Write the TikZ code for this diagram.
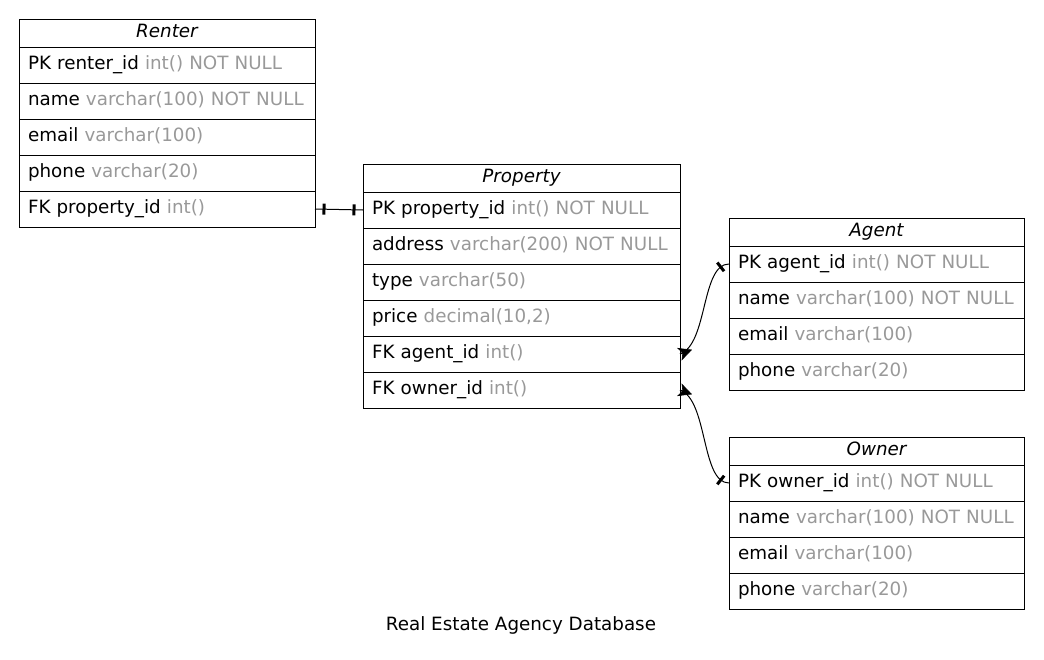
\documentclass[tikz,border=0pt]{standalone}
\usepackage{fontspec}
\setmainfont{DejaVu Sans}
\usetikzlibrary{positioning,decorations.markings}
\definecolor{coltype}{RGB}{153,153,153}
\newcommand{\ty}[1]{\textcolor{coltype}{#1}}
\newcommand{\erfont}{\fontsize{18.3}{22}\selectfont}
\tikzset{
  thead/.style={
    draw,
    line width = 1pt,
    outer sep = 0pt,
    anchor = north west,
    minimum width = #1,
    minimum height = 28pt,
    inner sep = 0pt,
    text height = 13pt,
    text depth = 4pt,
    font = \erfont\itshape
  },
  trow/.style={
    draw,
    line width = 1pt,
    outer sep = 0pt,
    text width = #1,
    inner xsep = 9pt,
    inner ysep = 0pt,
    minimum height = 36pt,
    text height = 13pt,
    text depth = 4pt,
    align = left
  },
}
\tikzset{
  link/.style={
    line width = 1pt
  },
  teeA/.style={
    postaction={decorate,decoration={markings,
      mark=at position 9pt with {\draw[line width=3pt] (0,-5.5pt) -- (0,5.5pt);}}}
  },
  teeB/.style={
    postaction={decorate,decoration={markings,
      mark=at position -9pt with {\draw[line width=3pt] (0,-5.5pt) -- (0,5.5pt);}}}
  },
  crowA/.style={
    postaction={decorate,decoration={markings,
      mark=at position 0 with {\filldraw[line width=0.6pt] (12pt,0) -- (0,6pt) -- (3pt,0) -- (0,-6pt) -- cycle;
                              \draw[line width=1pt] (0,0) -- (12pt,0);}}}
  }
}

\begin{document}
\begin{tikzpicture}[x=1pt,y=-1pt,font=\erfont]
    \useasboundingbox (0,0) rectangle (1044,659);

    % Renter
    \node[thead=296pt] (renterHead) at (19,19) {Renter};
    \node[trow=278pt, below=0pt of renterHead] (renterPK) {PK renter\_id \ty{int() NOT NULL}};
    \node[trow=278pt, below=0pt of renterPK] (renterName) {name \ty{varchar(100) NOT NULL}};
    \node[trow=278pt, below=0pt of renterName] (renterMail) {email \ty{varchar(100)}};
    \node[trow=278pt, below=0pt of renterMail] (renterPhone) {phone \ty{varchar(20)}};
    \node[trow=278pt, below=0pt of renterPhone] (renterFK) {FK property\_id \ty{int()}};

    % Property
    \node[thead=317pt] (propHead) at (363,164) {Property};
    \node[trow=299pt, below=0pt of propHead] (propPK) {PK property\_id \ty{int() NOT NULL}};
    \node[trow=299pt, below=0pt of propPK] (propAddr) {address \ty{varchar(200) NOT NULL}};
    \node[trow=299pt, below=0pt of propAddr] (propType) {type \ty{varchar(50)}};
    \node[trow=299pt, below=0pt of propType] (propPrice) {price \ty{decimal(10,2)}};
    \node[trow=299pt, below=0pt of propPrice] (propAgentFK) {FK agent\_id \ty{int()}};
    \node[trow=299pt, below=0pt of propAgentFK] (propOwnerFK) {FK owner\_id \ty{int()}};

    % Agent
    \node[thead=295pt] (agentHead) at (729,218) {Agent};
    \node[trow=277pt, below=0pt of agentHead] (agentPK) {PK agent\_id \ty{int() NOT NULL}};
    \node[trow=277pt, below=0pt of agentPK] (agentName) {name \ty{varchar(100) NOT NULL}};
    \node[trow=277pt, below=0pt of agentName] (agentMail) {email \ty{varchar(100)}};
    \node[trow=277pt, below=0pt of agentMail] (agentPhone) {phone \ty{varchar(20)}};

    % Owner
    \node[thead=295pt] (ownerHead) at (729,437) {Owner};
    \node[trow=277pt, below=0pt of ownerHead] (ownerPK) {PK owner\_id \ty{int() NOT NULL}};
    \node[trow=277pt, below=0pt of ownerPK] (ownerName) {name \ty{varchar(100) NOT NULL}};
    \node[trow=277pt, below=0pt of ownerName] (ownerMail) {email \ty{varchar(100)}};
    \node[trow=277pt, below=0pt of ownerMail] (ownerPhone) {phone \ty{varchar(20)}};

    \draw[link,teeA,teeB] (renterFK.east) -- (propPK.west);
    \draw[link,crowA,teeB] (propAgentFK.east) .. controls +(28,-10) and +(-28,0) .. (agentPK.west);
    \draw[link,crowA,teeB] (propOwnerFK.east) .. controls +(28,10) and +(-28,0) .. (ownerPK.west);

    \node[anchor=base] (caption) at (521,630) {Real Estate Agency Database};
\end{tikzpicture}
\end{document}
